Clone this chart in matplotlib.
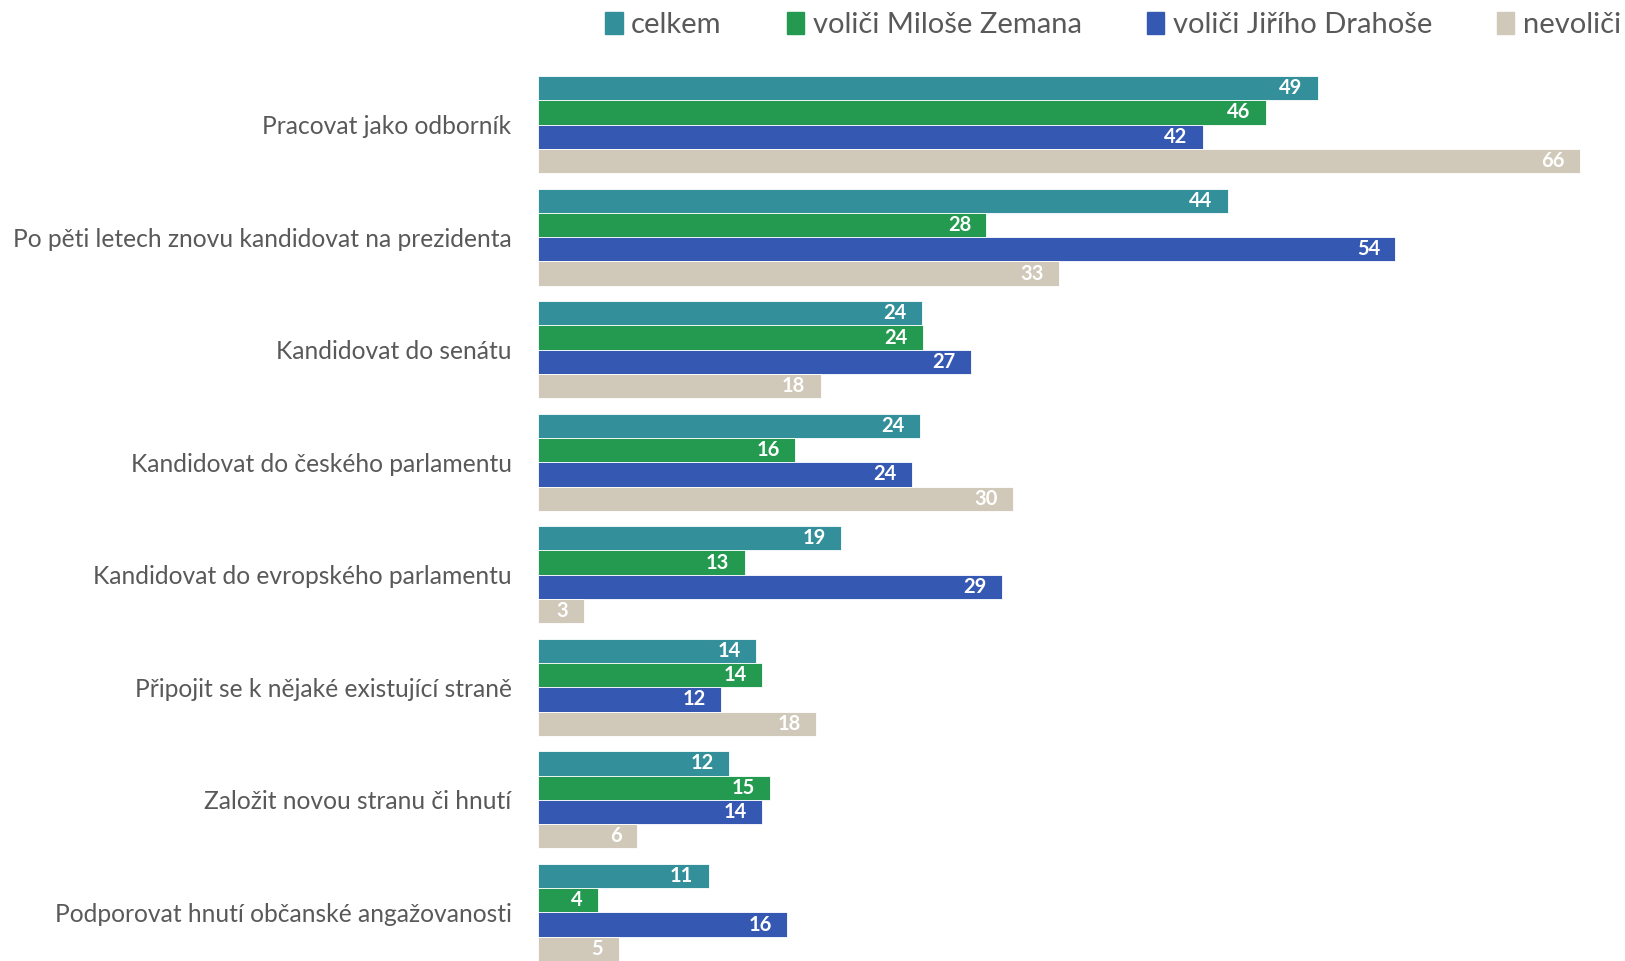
import numpy as np
import matplotlib.pyplot as plt
from matplotlib.patches import Patch

plt.rcParams['font.family'] = ['Lato', 'DejaVu Sans']

# Categories (top to bottom)
categories = [
    'Pracovat jako odborník',
    'Po pěti letech znovu kandidovat na prezidenta',
    'Kandidovat do senátu',
    'Kandidovat do českého parlamentu',
    'Kandidovat do evropského parlamentu',
    'Připojit se k nějaké existující straně',
    'Založit novou stranu či hnutí',
    'Podporovat hnutí občanské angažovanosti',
]
series_names = ['celkem', 'voliči Miloše Zemana', 'voliči Jiřího Drahoše', 'nevoliči']

# Values (labels show rounded numbers)
celkem = [49.4, 43.7, 24.3, 24.2, 19.2, 13.8, 12.1, 10.8]
zeman = [46.1, 28.4, 24.4, 16.3, 13.1, 14.2, 14.7, 3.8]
drahos = [42.1, 54.3, 27.4, 23.7, 29.4, 11.6, 14.2, 15.8]
nevolici = [66.0, 33.0, 17.9, 30.1, 2.9, 17.6, 6.3, 5.1]

colors = ['#338f99', '#239a50', '#3558b2', '#d0c9b9']

fig = plt.figure(figsize=(16.25, 9.61), dpi=100)
ax = fig.add_axes([538 / 1625, 0, 1 - 538 / 1625, 1 - 76 / 961])

y = np.arange(len(categories))
h = 0.216
offsets = np.array([-1.5, -0.5, 0.5, 1.5]) * h
for vals, off, col in zip([celkem, zeman, drahos, nevolici], offsets, colors):
    bars = ax.barh(y + off, vals, height=h, color=col, edgecolor='white', linewidth=0.6)
    for b, v in zip(bars, vals):
        ax.annotate('%.0f' % v, (b.get_width(), b.get_y() + b.get_height() / 2),
                    xytext=(-11, 0), textcoords='offset points',
                    ha='right', va='center', color='white',
                    fontsize=14.5, fontweight='bold')

ax.set_xlim(0, 68.85)
ax.set_ylim(len(categories) - 1 + 2 * h, -2 * h)
ax.set_yticks(y)
ax.set_yticklabels(categories, fontsize=17.7, color='#595959')
ax.tick_params(axis='y', length=0, pad=19)
ax.set_xticks([])
for s in ax.spines.values():
    s.set_visible(False)

handles = [Patch(color=c, label=n) for c, n in zip(colors, series_names)]
fig.legend(handles=handles, loc='center left', bbox_to_anchor=(605 / 1625, 1 - 25 / 961),
           ncol=4, frameon=False, fontsize=21, labelcolor='#595959',
           handlelength=0.6, handleheight=0.75, handletextpad=0.3,
           columnspacing=2.22, borderaxespad=0, borderpad=0)

fig.savefig('out.png', dpi=100)
